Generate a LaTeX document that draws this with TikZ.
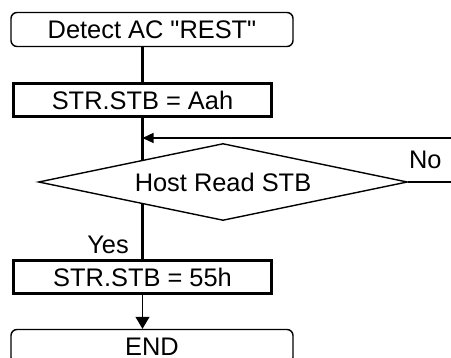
\documentclass[tikz,border=0pt]{standalone}
\usepackage{fontspec}
\setmainfont{Liberation Sans}[Ligatures=TeXOff]
\usetikzlibrary{shapes.geometric, arrows.meta, backgrounds}

\begin{document}
\begin{tikzpicture}[x=0.5pt, y=-0.5pt, font=\fontsize{12.7}{14}\selectfont]
  \tikzset{
    terminal/.style={draw, rounded corners=3pt, line width=0.7pt, minimum width=141pt, minimum height=17pt, inner sep=0pt},
    process/.style={draw, line width=1.5pt, minimum width=129pt, minimum height=16.5pt, inner sep=0pt},
    decision/.style={draw, diamond, fill=white, line width=0.7pt, aspect=4.8, minimum width=184.5pt, minimum height=38.5pt, inner sep=0pt},
    flow/.style={line width=1.5pt},
    link/.style={line width=0.6pt}
  }
  \useasboundingbox (0,0) rectangle (451,358);
  \clip (0,0) rectangle (451,358);

  % Nodes
  \node [terminal] (detect) at (152,29.5) {Detect AC "REST"};
  \node [process] (stbA) at (142.5,100) {STR.STB = Aah};
  \node [decision] (host) at (223,182) {Host Read STB};
  \node [process] (stbB) at (142.5,277.5) {STR.STB = 55h};
  \node [terminal] (end) at (152,346.5) {END};
  \node (yes) at (108,245) {Yes};
  \coordinate (noout) at (451,180);
  \coordinate (noin) at (451,138);

  % Arrows
  \begin{scope}[on background layer]
    \draw [flow] (stbA.north |- detect.south) -- (stbA.north);
    \draw [flow] (stbA.south) -- (stbB.north);
  \end{scope}
  \draw [link] (host.east) -- node [above=3pt, pos=0.4] {No} (host.east -| noout);
  \draw [link, -{Triangle[length=5.5pt, width=5pt]}] (noin) -- (noin -| stbA);
  \draw [link, -{Triangle[length=6pt, width=7pt]}] (stbB.south) -- (stbB.south |- end.north);

\end{tikzpicture}
\end{document}
